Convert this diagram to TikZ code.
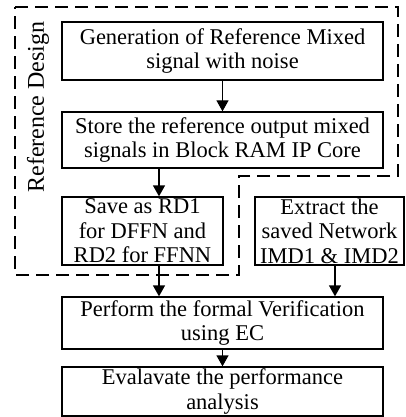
\documentclass[tikz,border=0pt]{standalone}
\usepackage{fontspec}
\setmainfont{Liberation Serif}
\usetikzlibrary{arrows.meta}
\tikzset{>={Triangle[width=12pt,length=11pt]}}
\tikzstyle{box}=[draw,line width=1.3pt,inner sep=0pt,align=center,font=\fontsize{22.5}{24.5}\selectfont]
\tikzstyle{flow}=[->,line width=1.3pt]
\tikzstyle{group}=[dash pattern=on 13pt off 7pt,line width=1.3pt]

\begin{document}
\begin{tikzpicture}[x=1pt,y=-1pt]
            \def\bw{321}
            \def\xm{222.5}
            \useasboundingbox (0,0) rectangle (405,417);
            \coordinate (a1) at (159,0);
            \coordinate (a2) at (335,0);
            \node[box, minimum width=\bw pt, minimum height=58pt] (gen) at (\xm,51) {Generation of Reference Mixed\\signal with noise};
            \node[box, minimum width=\bw pt, minimum height=56pt] (store) at (\xm,140) {Store the reference output mixed\\signals in Block RAM IP Core};
            \node[box, minimum width=161pt, minimum height=68pt] (save) at (142.5,231) {Save as RD1\\for DFFN and\\RD2 for FFNN};
            \node[box, minimum width=149pt, minimum height=68pt] (extract) at (329.5,231) {Extract the\\saved Network\\IMD1 \& IMD2};
            \node[box, minimum width=\bw pt, minimum height=52pt] (verify) at (\xm,323) {Perform the formal Verification\\using EC};
            \node[box, minimum width=\bw pt, minimum height=49pt] (perf) at (\xm,391.5) {Evalavate the performance\\analysis};
            \node[rotate=90, font=\fontsize{24}{26}\selectfont] (refdes) at (38,107) {Reference Design};
            \draw[group] (15,7) -- (398,7) -- (398,176) -- (239,176) -- (239,275) -- (15,275) -- cycle;
            \draw[flow] (gen) -- (store);
            \draw[flow] (store.south -| a1) -- (save.north -| a1);
            \draw[flow] (save.south -| a1) -- (verify.north -| a1);
            \draw[flow] (extract.south -| a2) -- (verify.north -| a2);
            \draw[flow] (verify) -- (perf);
        \end{tikzpicture}
\end{document}
